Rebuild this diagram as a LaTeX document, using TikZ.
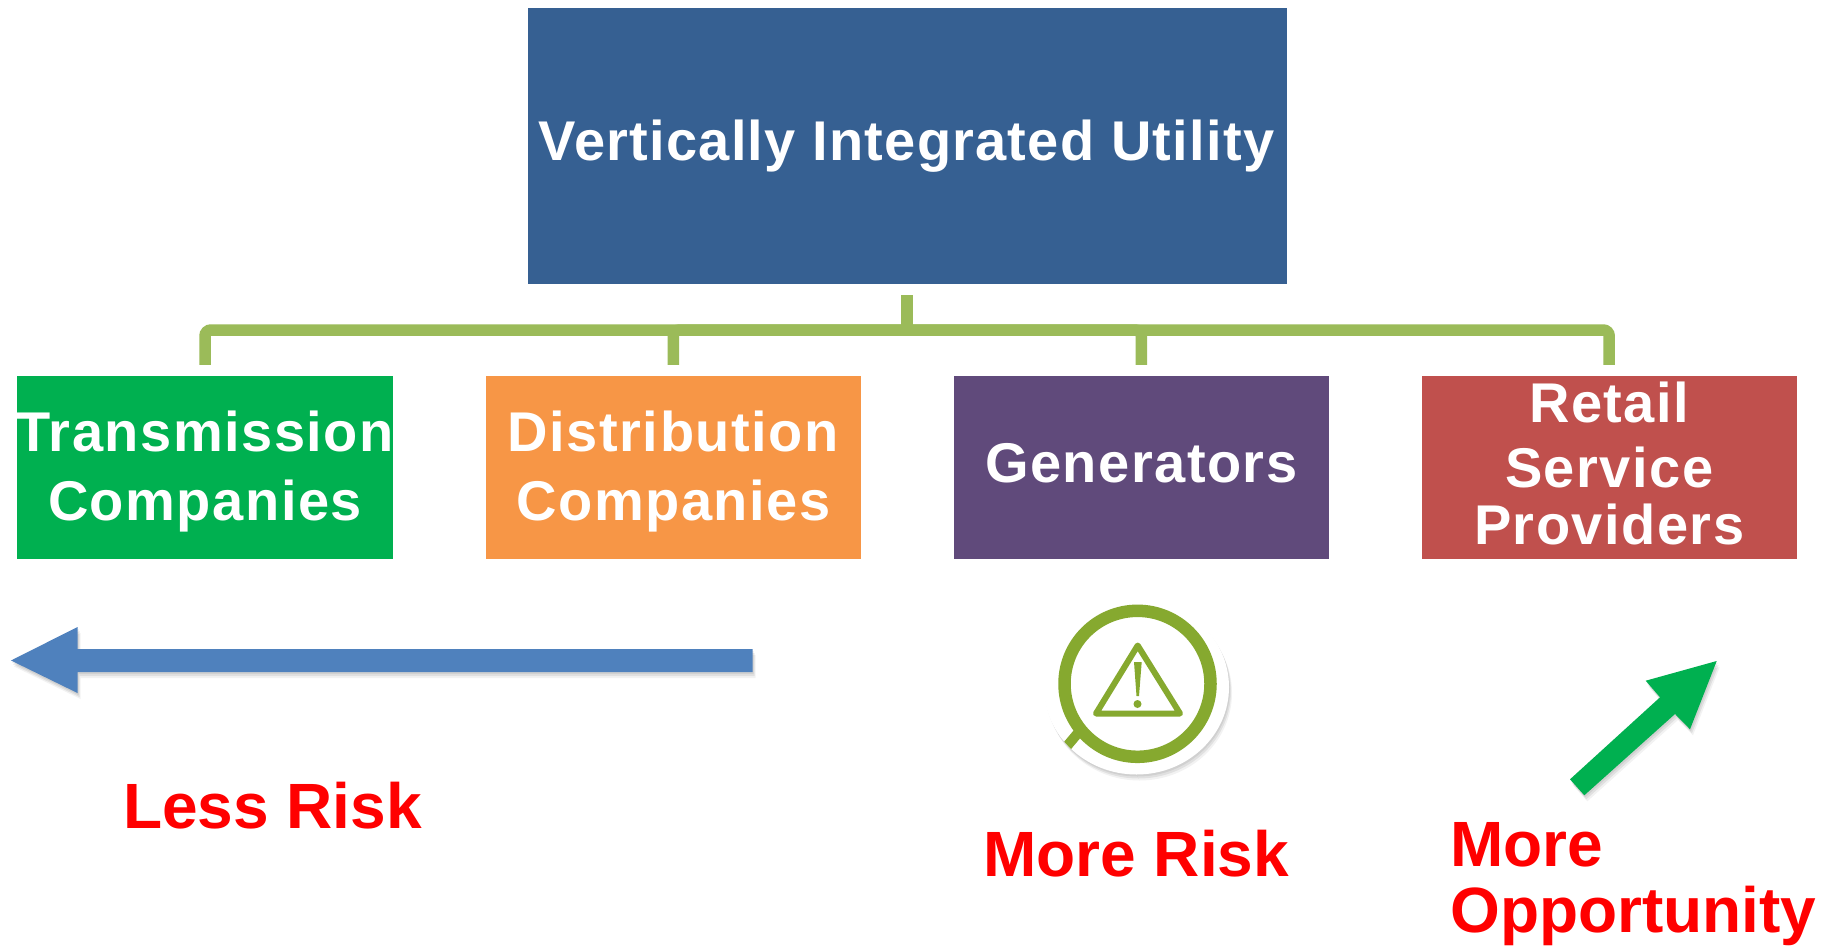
\documentclass[tikz,border=0pt]{standalone}
\usepackage{fontspec}
\setmainfont{Liberation Sans}
\usetikzlibrary{calc}
\definecolor{topblue}{HTML}{366092}
\definecolor{tgreen}{HTML}{00B050}
\definecolor{dorange}{HTML}{F79646}
\definecolor{gpurple}{HTML}{604A7B}
\definecolor{rred}{HTML}{C0504D}
\definecolor{conngreen}{HTML}{9BBB59}
\definecolor{arrowblue}{HTML}{4F81BD}
\definecolor{icongreen}{HTML}{86A92F}
\definecolor{riskred}{HTML}{FF0000}
\tikzset{
  x=1pt,y=-1pt,
  boxnode/.style={draw=none,minimum width=375.3pt,minimum height=182.7pt,inner sep=0pt,outer sep=0pt},
  boxtext/.style={text=white,font=\fontsize{56pt}{69pt}\selectfont\bfseries\addfontfeature{LetterSpace=2.7},align=center,inner sep=0pt,anchor=base},
  conn/.style={draw=conngreen,line width=11.5pt,rounded corners=6pt},
  risk/.style={text=riskred,font=\fontsize{64pt}{66pt}\selectfont\bfseries,align=left,inner sep=0pt,anchor=base west},
  softshadow/.style={preaction={fill=black,opacity=.07,transform canvas={shift={(1pt,-2pt)}}},
     preaction={fill=black,opacity=.07,transform canvas={shift={(2pt,-4pt)}}},
     preaction={fill=black,opacity=.05,transform canvas={shift={(3pt,-6pt)}}}}
}
\begin{document}
\begin{tikzpicture}
\useasboundingbox (0,0) rectangle (1822,947);
\fill[white] (0,0) rectangle (1822,947);
\node[boxnode,fill=topblue,minimum width=759pt,minimum height=276pt] (top) at (907,146) {};
\node[boxnode,fill=tgreen] (tc) at (205,467.3) {};
\node[boxnode,fill=dorange] (dc) at (673.3,467.3) {};
\node[boxnode,fill=gpurple] (gen) at (1141.3,467.3) {};
\node[boxnode,fill=rred] (rsp) at (1609.2,467.3) {};
\coordinate (bus) at (907,330);
\draw[conn,shorten <=11pt] (top.south) -- (bus);
\draw[conn,shorten >=11pt] (bus) -| (tc.north);
\draw[conn,shorten >=11pt] (bus) -| (dc.north);
\draw[conn,shorten >=11pt] (bus) -| (gen.north);
\draw[conn,shorten >=11pt] (bus) -| (rsp.north);
\node[boxtext,font=\fontsize{56pt}{69pt}\selectfont\bfseries\addfontfeature{LetterSpace=2.2}] (topt) at (906.5,160) {Vertically Integrated Utility};
\node[boxtext] (tct) at (205,520) {Transmission\\Companies};
\node[boxtext] (dct) at (673.3,520) {Distribution\\Companies};
\node[boxtext] (gent) at (1141.3,482) {Generators};
\node[boxtext] (rspt) at (1609.2,544) {Retail\\[-4pt]Service\\[-12pt]Providers};
% blue arrow
\path[fill=arrowblue,softshadow] (11,660.5) -- (77.5,627) -- (77.5,649) -- (752.5,649) -- (752.5,672) -- (77.5,672) -- (77.5,693) -- cycle;
% green arrow
\path[fill=tgreen,softshadow] (1716.7,661) -- (1690,729.3) -- (1675,714) -- (1584.3,795.3) -- (1570,779.3) -- (1660,697.3) -- (1645.7,680.7) -- cycle;
% icon
\path[fill=white,softshadow] (1136.5,687) ellipse [x radius=92.5,y radius=87.5];
\begin{scope}
\clip (1136.5,687) ellipse [x radius=92.5,y radius=87.5];
\draw[icongreen,line width=10pt] (1078,733) -- (1062,752);
\end{scope}
\draw[icongreen,line width=12.5pt] (1137.5,683.8) circle [radius=73];
\draw[icongreen,line width=6pt,line join=round] (1137.7,645.5) -- (1180,713.5) -- (1096,713.5) -- cycle;
\fill[icongreen] (1134,662) -- (1141.7,662) -- (1139,696) -- (1136.5,696) -- cycle;
\fill[icongreen] (1137.5,704) circle [radius=4];
\node[risk] (less) at (123,828) {Less Risk};
\node[risk] (more) at (983,876) {More Risk};
\node[risk] (opp) at (1450,866) {More};
\node[risk] (opp2) at (1450,932) {Opportunity};
\end{tikzpicture}
\end{document}
